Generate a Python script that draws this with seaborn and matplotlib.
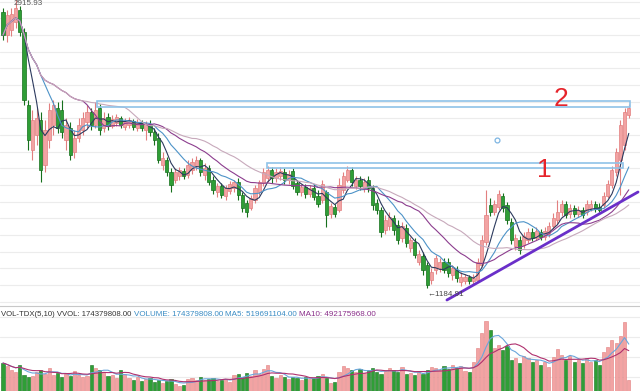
'''
Index candlestick chart with moving averages, support boxes and volume panel
'''
import numpy as np
import pandas as pd
import matplotlib
matplotlib.use('Agg')
import matplotlib.pyplot as plt
import seaborn as sns
from matplotlib.patches import Rectangle

opens = [2838, 2700, 2730, 2778, 2850, 2718, 2280, 2010, 2100, 2190,
         1920, 2070, 2160, 2262, 2250, 2070, 2142, 1998, 2082, 2130,
         2178, 2238, 2160, 2262, 2142, 2208, 2154, 2172, 2202, 2148,
         2160, 2184, 2142, 2178, 2130, 2166, 2118, 2082, 1920, 1950,
         1878, 1830, 1854, 1884, 1860, 1890, 1914, 1950, 1860, 1902,
         1830, 1758, 1794, 1734, 1764, 1782, 1818, 1740, 1692, 1662,
         1710, 1758, 1812, 1842, 1890, 1842, 1854, 1878, 1830, 1884,
         1812, 1758, 1788, 1746, 1782, 1734, 1710, 1758, 1626, 1668,
         1650, 1770, 1830, 1890, 1794, 1830, 1782, 1830, 1782, 1692,
         1650, 1530, 1554, 1602, 1560, 1482, 1542, 1422, 1458, 1338,
         1374, 1320, 1230, 1290, 1302, 1338, 1338, 1260, 1290, 1218,
         1224, 1248, 1224, 1230, 1320, 1458, 1680, 1638, 1668, 1734,
         1680, 1578, 1434, 1470, 1440, 1470, 1518, 1482, 1518, 1488,
         1506, 1554, 1590, 1638, 1686, 1626, 1662, 1626, 1650, 1638,
         1662, 1686, 1668, 1680, 1734, 1800, 1878, 1950, 2040, 2220]
closes = [2700, 2820, 2826, 2862, 2718, 2310, 2070, 2190, 2202, 1890,
          2130, 2250, 2280, 2142, 2118, 2160, 1980, 2082, 2160, 2202,
          2238, 2160, 2250, 2130, 2202, 2154, 2196, 2208, 2160, 2184,
          2190, 2148, 2178, 2142, 2166, 2118, 2070, 1950, 1962, 1878,
          1800, 1878, 1890, 1854, 1920, 1938, 1950, 1878, 1902, 1818,
          1770, 1794, 1740, 1782, 1806, 1818, 1740, 1662, 1638, 1722,
          1782, 1818, 1878, 1890, 1842, 1878, 1884, 1830, 1866, 1794,
          1758, 1788, 1746, 1782, 1728, 1686, 1806, 1620, 1674, 1626,
          1800, 1854, 1890, 1818, 1830, 1794, 1818, 1782, 1680, 1650,
          1518, 1590, 1608, 1530, 1470, 1554, 1452, 1470, 1380, 1386,
          1290, 1200, 1278, 1362, 1338, 1290, 1272, 1302, 1242, 1248,
          1248, 1224, 1242, 1338, 1470, 1620, 1638, 1686, 1746, 1662,
          1590, 1470, 1482, 1410, 1494, 1518, 1482, 1524, 1488, 1524,
          1554, 1602, 1638, 1686, 1620, 1662, 1626, 1650, 1620, 1686,
          1686, 1656, 1650, 1734, 1806, 1890, 1998, 2160, 2238, 2262]
highs = [2862, 2850, 2862, 2916, 2874, 2742, 2310, 2250, 2262, 2238,
         2190, 2292, 2310, 2298, 2310, 2202, 2178, 2130, 2202, 2238,
         2280, 2262, 2298, 2286, 2238, 2232, 2220, 2226, 2214, 2202,
         2208, 2196, 2196, 2190, 2184, 2190, 2142, 2112, 1998, 1968,
         1902, 1902, 1908, 1902, 1950, 1962, 1974, 1962, 1932, 1920,
         1854, 1812, 1812, 1800, 1824, 1830, 1842, 1758, 1710, 1740,
         1800, 1830, 1902, 1914, 1908, 1902, 1908, 1902, 1890, 1902,
         1830, 1806, 1806, 1800, 1806, 1770, 1830, 1770, 1692, 1686,
         1842, 1878, 1914, 1908, 1854, 1854, 1842, 1854, 1800, 1716,
         1668, 1620, 1638, 1620, 1590, 1578, 1566, 1488, 1482, 1410,
         1398, 1338, 1302, 1380, 1362, 1362, 1362, 1320, 1314, 1278,
         1266, 1260, 1266, 1362, 1500, 1770, 1722, 1710, 1770, 1752,
         1698, 1602, 1506, 1494, 1518, 1542, 1542, 1548, 1536, 1548,
         1578, 1632, 1710, 1710, 1704, 1686, 1680, 1674, 1668, 1710,
         1710, 1704, 1692, 1758, 1830, 1914, 2022, 2190, 2262, 2286]
lows = [2670, 2658, 2694, 2742, 2694, 2280, 2010, 1950, 2040, 1818,
        1878, 2022, 2100, 2112, 2082, 2010, 1950, 1962, 2058, 2100,
        2142, 2130, 2142, 2100, 2118, 2130, 2142, 2154, 2142, 2130,
        2142, 2130, 2124, 2124, 2070, 2094, 2040, 1932, 1890, 1854,
        1758, 1812, 1830, 1836, 1842, 1866, 1890, 1854, 1830, 1800,
        1746, 1728, 1722, 1710, 1746, 1758, 1710, 1638, 1608, 1650,
        1692, 1740, 1794, 1818, 1812, 1818, 1830, 1806, 1806, 1776,
        1740, 1734, 1722, 1728, 1710, 1668, 1692, 1548, 1602, 1608,
        1638, 1752, 1818, 1794, 1776, 1770, 1758, 1758, 1650, 1626,
        1488, 1506, 1530, 1500, 1446, 1458, 1428, 1398, 1362, 1320,
        1260, 1185, 1206, 1266, 1278, 1272, 1248, 1230, 1218, 1192,
        1206, 1206, 1206, 1218, 1308, 1440, 1614, 1620, 1650, 1638,
        1566, 1446, 1410, 1386, 1422, 1452, 1464, 1470, 1470, 1470,
        1488, 1536, 1566, 1614, 1602, 1602, 1608, 1608, 1602, 1620,
        1644, 1638, 1638, 1662, 1722, 1782, 1854, 1740, 2010, 2202]
# volume in units of 1e8 shares
volumes = [3.4, 3.1, 2.7, 2.5, 3.2, 2.2, 2.0, 2.1, 2.5, 2.7,
           2.3, 2.9, 2.2, 2.4, 2.0, 2.3, 2.1, 2.6, 2.2, 2.0,
           2.1, 3.2, 2.9, 2.7, 2.5, 2.1, 2.2, 1.9, 2.7, 2.3,
           1.9, 1.7, 2.0, 1.6, 1.8, 1.9, 1.5, 1.7, 1.4, 1.6,
           1.8, 1.3, 1.1, 1.2, 1.8, 1.9, 1.7, 2.0, 1.7, 1.8,
           1.9, 1.6, 1.7, 1.8, 1.5, 2.2, 2.3, 2.0, 2.4, 2.1,
           2.7, 2.3, 2.8, 3.2, 2.1, 1.9, 2.2, 2.0, 1.8, 2.0,
           1.9, 1.7, 2.0, 1.8, 1.9, 2.1, 2.3, 1.9, 1.4, 1.5,
           2.5, 3.1, 2.9, 2.7, 2.5, 2.8, 2.4, 2.7, 2.9, 2.5,
           2.3, 2.6, 2.9, 2.7, 2.5, 3.0, 2.3, 2.4, 2.2, 2.5,
           2.3, 2.7, 3.0, 2.9, 2.7, 3.1, 2.8, 3.2, 2.9, 3.1,
           2.6, 2.5, 3.5, 4.9, 6.4, 7.6, 6.7, 4.9, 5.2, 4.7,
           5.1, 3.7, 3.9, 3.4, 4.1, 3.9, 3.5, 3.7, 3.2, 3.5,
           3.0, 4.0, 4.8, 4.2, 3.7, 4.1, 3.5, 3.7, 3.4, 3.9,
           3.5, 3.7, 3.2, 4.5, 5.0, 5.7, 5.4, 6.1, 7.5, 1.74]

# support levels (price band) drawn as boxes, and the rising trend line
box_levels = [(2268, 2304), (1899, 1929)]
box_starts = [22.4, 62.9]
box_ends = [149.3, 147.6]
trend_x = [105.7, 151.2]
trend_y = [1110, 1758]
high_label = '2915.93'
low_label = '\u2190' + '1184.91'

UP_FILL = '#f2a3a3'
UP_EDGE = '#e27f7f'
DN_FILL = '#2f9e36'
DN_EDGE = '#17701d'


def main():
    sns.set_theme(style='white')
    plt.rcParams['font.family'] = ['Liberation Sans', 'DejaVu Sans']

    df = pd.DataFrame({'open': opens, 'close': closes, 'high': highs,
                       'low': lows, 'volume': volumes})
    df['idx'] = np.arange(len(df))
    for n in [5, 10, 20, 30]:
        df['ma%d' % n] = df['close'].rolling(n, min_periods=1).mean()
    df['vma5'] = df['volume'].rolling(5, min_periods=1).mean()
    df['vma10'] = df['volume'].rolling(10, min_periods=1).mean()
    up = df['close'] >= df['open']

    fig = plt.figure(figsize=(6.4, 3.91), dpi=100)
    ax = fig.add_axes([0, 85 / 391, 1, 306 / 391])
    axv = fig.add_axes([0, 0, 1, 83 / 391])
    xlim = (-0.714, 151.67)

    # price panel
    ax.vlines(df['idx'], df['low'], df['high'],
              colors=np.where(up, UP_EDGE, DN_EDGE), lw=0.8, zorder=2)
    ax.bar(df['idx'][up], (df['close'] - df['open'])[up],
           bottom=df['open'][up], width=0.72, color=UP_FILL,
           edgecolor=UP_EDGE, lw=0.5, zorder=2)
    ax.bar(df['idx'][~up], (df['close'] - df['open'])[~up],
           bottom=df['open'][~up], width=0.72, color=DN_FILL,
           edgecolor=DN_EDGE, lw=0.5, zorder=2)
    ma_colors = {'ma5': '#2c3a5e', 'ma10': '#4d93c8',
                 'ma20': '#8c3d8e', 'ma30': '#c7a9bb'}
    for col, c in ma_colors.items():
        sns.lineplot(data=df, x='idx', y=col, ax=ax, color=c, lw=0.8,
                     zorder=3, legend=False)

    for (lo, hi), x0, x1 in zip(box_levels, box_starts, box_ends):
        ax.add_patch(Rectangle((x0, lo), x1 - x0, hi - lo, fill=False,
                               ec='#8fc2e8', lw=1.2, zorder=4))
    ax.plot(trend_x, trend_y, color='#6a2fc9', lw=2.0, zorder=5)
    ax.plot([117.6], [2070], marker='o', ms=3.5, mfc='white',
            mec='#7db5e2', mew=0.9, zorder=5)
    ax.text(132.9, 2316, '2', color='#e6242b', fontsize=19,
            ha='center', va='center', zorder=6)
    ax.text(128.8, 1888, '1', color='#e6242b', fontsize=19,
            ha='center', va='center', zorder=6)
    ax.text(2.6, 2908, high_label, color='#555555', fontsize=5.8,
            ha='left', va='top', zorder=6)
    ax.text(101.0, 1146, low_label, color='#444444', fontsize=5.8,
            ha='left', va='center', zorder=6)

    ax.set_xlim(*xlim)
    ax.set_ylim(1074, 2910)
    ax.set_yticks(np.arange(1100, 2901, 100))
    ax.yaxis.grid(True, color='#ececec', lw=0.8)
    ax.tick_params(left=False, bottom=False, labelleft=False,
                   labelbottom=False)
    ax.set_xlabel('')
    ax.set_ylabel('')
    for s in ['top', 'left', 'right']:
        ax.spines[s].set_visible(False)
    ax.spines['bottom'].set_color('#c8c8c8')
    ax.spines['bottom'].set_linewidth(0.8)

    # volume panel
    axv.bar(df['idx'][up], df['volume'][up], width=0.72, color=UP_FILL,
            edgecolor=UP_EDGE, lw=0.4, zorder=2)
    axv.bar(df['idx'][~up], df['volume'][~up], width=0.72, color=DN_FILL,
            edgecolor=DN_EDGE, lw=0.4, zorder=2)
    sns.lineplot(data=df, x='idx', y='vma5', ax=axv, color='#6aa6dc',
                 lw=0.8, zorder=3, legend=False)
    sns.lineplot(data=df, x='idx', y='vma10', ax=axv, color='#b0306e',
                 lw=0.8, zorder=3, legend=False)
    axv.set_xlim(*xlim)
    axv.set_ylim(0.6, 8.9)
    axv.set_yticks([2, 4, 6, 8])
    axv.yaxis.grid(True, color='#ececec', lw=0.8)
    axv.tick_params(left=False, bottom=False, labelleft=False,
                    labelbottom=False)
    axv.set_xlabel('')
    axv.set_ylabel('')
    for s in axv.spines.values():
        s.set_visible(False)

    ty = 1 - 314 / 391
    fig.text(1 / 640, ty, 'VOL-TDX(5,10) VVOL: 174379808.00',
             color='#333333', fontsize=5.6, va='center')
    fig.text(134 / 640, ty, 'VOLUME: 174379808.00', color='#3a8cc4',
             fontsize=5.8, va='center')
    fig.text(225 / 640, ty, 'MA5: 519691104.00', color='#3a8cc4',
             fontsize=5.8, va='center')
    fig.text(299 / 640, ty, 'MA10: 492175968.00', color='#8a2f8a',
             fontsize=5.8, va='center')

    fig.savefig('out.png', dpi=100)


if __name__ == '__main__':
    main()
